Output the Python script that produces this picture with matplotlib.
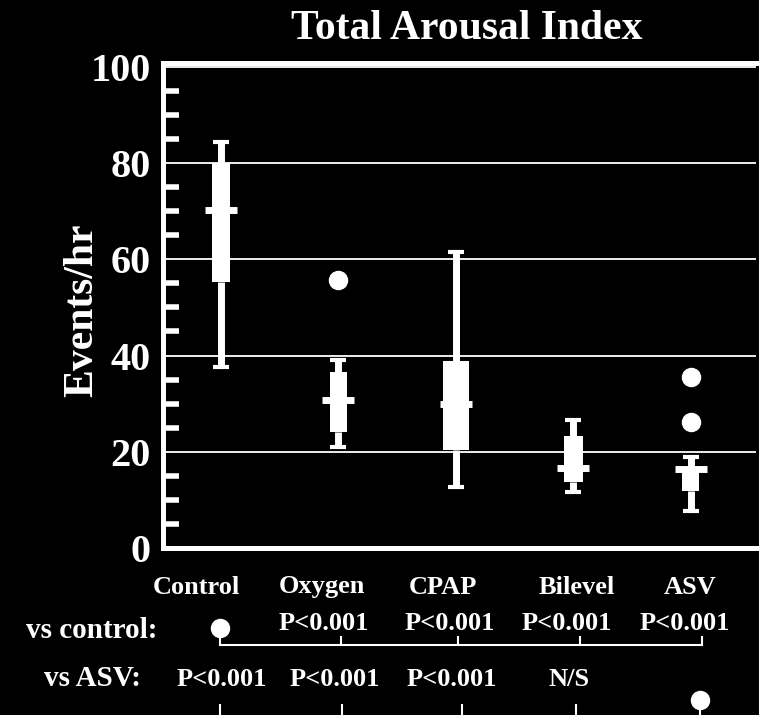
import matplotlib
matplotlib.use("Agg")
import matplotlib.pyplot as plt
from matplotlib.lines import Line2D

plt.rcParams["font.family"] = ["Liberation Serif", "DejaVu Serif"]
plt.rcParams["font.weight"] = "bold"
plt.rcParams["axes.labelweight"] = "bold"

# arousal index per treatment group (events/hr)
groups = ["Control", "Oxygen", "CPAP", "Bilevel", "ASV"]
whisker_lo = [37.6, 21.0, 12.7, 11.6, 7.7]
q1 = [55.2, 24.1, 20.3, 13.7, 11.8]
medians = [70.3, 30.7, 29.9, 16.6, 16.4]
q3 = [80.1, 36.5, 38.8, 23.2, 16.9]
whisker_hi = [84.4, 39.0, 61.6, 26.6, 18.9]
outliers = [[], [55.8], [], [], [35.5, 26.1]]

vs_control = ["P<0.001", "P<0.001", "P<0.001", "P<0.001"]
vs_asv = ["P<0.001", "P<0.001", "P<0.001", "N/S"]

W, H = 759, 715
fig = plt.figure(figsize=(W / 100, H / 100), dpi=100, facecolor="black")


def fx(px):
    return px / W


def fy(py):
    return 1 - py / H


ax = fig.add_axes([fx(163), fy(548), (756 - 163) / W, (548 - 63) / H])
ax.set_facecolor("black")

positions = [1, 2, 3, 4, 5]
box_widths = [0.153, 0.150, 0.222, 0.160, 0.147]
stats = []
for i, name in enumerate(groups):
    stats.append(dict(label=name, whislo=whisker_lo[i], q1=q1[i], med=medians[i],
                      q3=q3[i], whishi=whisker_hi[i], fliers=outliers[i]))

ax.bxp(stats, positions=positions, widths=box_widths, patch_artist=True,
       capwidths=0.136, manage_ticks=False,
       boxprops=dict(facecolor="white", edgecolor="white", linewidth=0),
       whiskerprops=dict(color="white", linewidth=5, solid_capstyle="butt"),
       capprops=dict(color="white", linewidth=3, solid_capstyle="butt"),
       medianprops=dict(linewidth=0),
       flierprops=dict(marker="o", markersize=13, markerfacecolor="white",
                       markeredgecolor="white"))

# wide median bars
ax.hlines(medians, [p - 0.136 for p in positions], [p + 0.136 for p in positions],
          colors="white", linewidth=5, zorder=3)

ax.set_xlim(0.506, 5.557)
ax.set_ylim(0, 100.8)
ax.set_xticks([])
ax.set_yticks([0, 20, 40, 60, 80, 100])
ax.set_yticks([v for v in range(5, 100, 5) if v % 20 != 0], minor=True)
ax.tick_params(axis="y", which="major", length=0, pad=9, labelsize=29,
               labelcolor="white")
ax.tick_params(axis="y", which="minor", direction="in", length=11.5, width=4,
               color="white")
ax.yaxis.grid(True, which="major", color="white", linewidth=1.3)
ax.set_axisbelow(True)

for side in ["left", "top", "bottom"]:
    ax.spines[side].set_color("white")
    ax.spines[side].set_linewidth(3.6)
ax.spines["right"].set_visible(False)

ax.set_ylabel("Events/hr", fontsize=30, fontweight="bold", color="white",
              va="center")
ax.yaxis.set_label_coords((82 - 163) / 593, 0.49)

fig.text(fx(467), fy(29), "Total Arousal Index", ha="center", va="center",
         fontsize=30, color="white")

# group names under the axis
name_x = [196, 322, 443, 577, 690]
for x, name in zip(name_x, groups):
    fig.text(fx(x), fy(587), name, ha="center", va="center", fontsize=19,
             color="white")

fig.text(fx(92), fy(631), "vs control:", ha="center", va="center", fontsize=21,
         color="white")
fig.text(fx(92), fy(679), "vs ASV:", ha="center", va="center", fontsize=21,
         color="white")

# comparisons against control
for x, s in zip([324, 450, 567, 685], vs_control):
    fig.text(fx(x), fy(624), s, ha="center", va="center", fontsize=19,
             color="white")


def seg(x0, y0, x1, y1, lw=1.5):
    fig.add_artist(Line2D([fx(x0), fx(x1)], [fy(y0), fy(y1)], color="white",
                          linewidth=lw, transform=fig.transFigure))


def dot(x, y):
    fig.add_artist(Line2D([fx(x)], [fy(y)], marker="o", markersize=13,
                          color="white", transform=fig.transFigure))


dot(220, 628)
seg(220, 628, 220, 645)
seg(220, 645, 702, 645)
for x in [341, 458, 580, 702]:
    seg(x, 637, x, 645)

# comparisons against ASV
for x, s in zip([222, 335, 452, 569], vs_asv):
    fig.text(fx(x), fy(679), s, ha="center", va="center", fontsize=19,
             color="white")
for x in [220, 342, 462, 576]:
    seg(x, 705, x, 716)
dot(700, 700)
seg(700, 700, 700, 716)

fig.savefig("out.png", dpi=100, facecolor="black")
